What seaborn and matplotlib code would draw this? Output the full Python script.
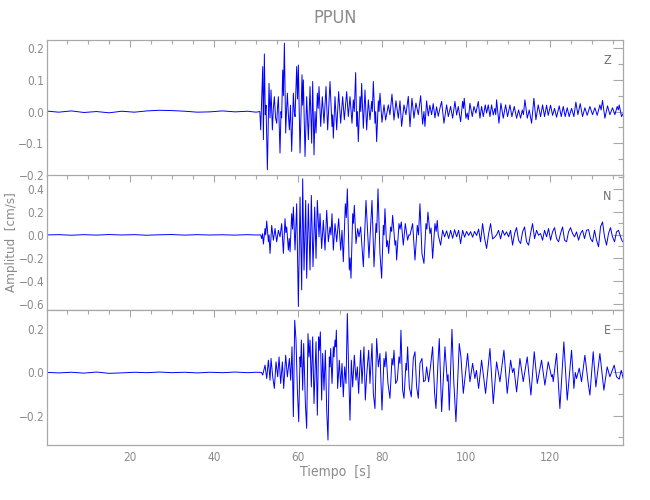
import matplotlib
matplotlib.use("Agg")
import matplotlib.pyplot as plt
import pandas as pd
import seaborn as sns
from matplotlib import font_manager
from matplotlib.ticker import FuncFormatter, MultipleLocator

# (tiempo [s], amplitud [cm/s]) picked off the three traces of station PPUN
z_trace = [
    (0.5, 0.001), (3.0, -0.002), (6.0, 0.002), (9.0, -0.003), (12.0, 0.000), (15.0, -0.004),
    (18.0, 0.001), (21.0, -0.002), (24.0, 0.002), (27.0, 0.004), (30.0, 0.003), (33.0, 0.001),
    (36.0, -0.002), (39.0, -0.001), (42.0, 0.002), (45.0, -0.001), (48.0, 0.001), (50.0, -0.002),
    (50.9, 0.000), (51.11, -0.058), (51.59, 0.142), (51.75, -0.089), (51.98, 0.182), (52.20, -0.010),
    (52.38, 0.020), (52.70, -0.184), (53.09, 0.089), (53.33, -0.020), (53.57, 0.068), (53.89, -0.058),
    (54.12, 0.010), (54.36, 0.047), (54.65, -0.020), (54.92, -0.037), (55.10, 0.010), (55.32, 0.047),
    (55.71, -0.131), (55.95, 0.000), (56.10, -0.020), (56.35, 0.131), (56.52, 0.050), (56.75, 0.216),
    (57.06, -0.068), (57.25, 0.000), (57.46, 0.058), (57.70, -0.010), (57.94, -0.058), (58.20, 0.020),
    (58.49, -0.126), (58.89, 0.058), (59.10, 0.000), (59.29, -0.016), (59.68, 0.142), (59.88, 0.040),
    (60.08, 0.147), (60.48, -0.131), (60.95, 0.116), (61.10, 0.020), (61.27, 0.100), (61.67, -0.142),
    (62.06, 0.047), (62.46, -0.089), (62.86, 0.079), (63.25, -0.100), (63.49, 0.095), (63.81, -0.137),
    (64.05, 0.000), (64.29, -0.068), (64.60, 0.058), (64.80, 0.010), (65.00, 0.079), (65.40, -0.047),
    (65.79, 0.047), (66.19, -0.037), (66.67, 0.079), (67.06, -0.058), (67.62, 0.095), (68.09, -0.047),
    (68.25, -0.010), (68.41, -0.084), (68.81, 0.047), (69.21, -0.058), (69.68, 0.063), (70.16, -0.037),
    (70.63, 0.047), (71.03, -0.026), (71.59, 0.063), (71.98, -0.016), (72.38, 0.047), (72.86, -0.037),
    (73.17, 0.037), (73.40, 0.000), (73.73, 0.123), (73.97, -0.047), (74.15, 0.000), (74.36, -0.095),
    (74.76, 0.047), (74.95, 0.000), (75.16, 0.089), (75.56, -0.053), (75.95, 0.068), (76.35, -0.058),
    (76.75, 0.037), (77.14, -0.026), (77.54, 0.032), (77.70, 0.000), (77.94, 0.095), (78.33, -0.037),
    (78.50, 0.000), (78.73, -0.095), (79.13, 0.034), (79.30, 0.000), (79.52, 0.058), (80.00, -0.034),
    (80.48, 0.021), (80.87, -0.027), (81.51, 0.021), (81.90, -0.010), (82.38, 0.055), (82.86, -0.027),
    (83.33, 0.034), (83.89, -0.021), (84.29, 0.034), (84.68, -0.047), (85.24, 0.021), (85.71, -0.010),
    (86.27, 0.048), (86.67, -0.048), (87.14, 0.042), (87.62, -0.021), (88.09, 0.027), (88.65, -0.010),
    (89.21, 0.050), (89.68, -0.040), (90.00, 0.000), (90.24, -0.047), (90.63, 0.034), (91.03, -0.014),
    (91.40, 0.020), (91.82, -0.010), (92.20, 0.025), (92.62, -0.020), (93.00, 0.015), (93.41, -0.015),
    (93.80, 0.010), (94.21, 0.032), (94.76, -0.037), (95.40, 0.021), (95.80, -0.016), (96.35, 0.016),
    (96.83, -0.021), (97.38, 0.032), (97.78, -0.011), (98.18, 0.016), (98.73, -0.032), (99.21, 0.032),
    (99.40, 0.010), (99.60, 0.042), (100.00, -0.021), (100.30, -0.005), (100.56, -0.026), (100.95, 0.026),
    (101.51, -0.016), (101.91, 0.016), (102.38, -0.005), (102.94, 0.032), (103.34, -0.021), (103.73, 0.016),
    (104.13, -0.016), (104.60, 0.021), (104.92, -0.005), (105.32, 0.021), (105.72, -0.016), (106.11, 0.021),
    (106.51, -0.011), (106.90, 0.010), (107.10, -0.010), (107.30, 0.037), (107.86, -0.037), (108.34, 0.026),
    (108.89, -0.021), (109.45, 0.021), (109.92, -0.016), (110.48, 0.021), (110.95, -0.016), (111.51, 0.016),
    (112.07, -0.021), (112.54, 0.005), (113.02, -0.021), (113.42, 0.005), (113.70, -0.010), (114.05, 0.037),
    (114.61, -0.021), (115.08, 0.005), (115.64, -0.037), (116.19, 0.042), (116.67, -0.026), (117.22, 0.021),
    (117.78, -0.016), (118.26, 0.021), (118.73, -0.016), (119.21, 0.020), (119.60, -0.012), (120.16, 0.020),
    (120.64, -0.012), (121.11, 0.010), (121.59, -0.018), (122.22, 0.018), (122.70, -0.016), (123.18, 0.016),
    (123.65, -0.016), (124.13, 0.012), (124.60, -0.016), (125.16, 0.010), (125.72, -0.016), (126.19, 0.030),
    (126.67, -0.010), (127.22, 0.025), (127.78, -0.016), (128.34, 0.012), (128.89, -0.012), (129.53, 0.016),
    (130.16, -0.010), (130.72, 0.012), (131.27, -0.012), (131.91, 0.021), (132.20, 0.005), (132.54, 0.035),
    (133.10, -0.021), (133.73, 0.018), (134.29, -0.010), (134.92, 0.012), (135.48, -0.010), (136.03, 0.016),
    (136.30, 0.005), (136.51, 0.021), (137.07, -0.016), (137.50, -0.005),
]

n_trace = [
    (0.5, 0.000), (3.0, 0.002), (6.0, -0.003), (9.0, 0.002), (12.0, -0.002), (15.0, 0.003),
    (18.0, -0.001), (21.0, 0.002), (24.0, -0.003), (27.0, 0.001), (30.0, 0.003), (33.0, -0.002),
    (36.0, 0.002), (39.0, -0.001), (42.0, 0.001), (45.0, -0.002), (48.0, 0.002), (50.0, -0.001),
    (51.1, 0.000), (51.35, -0.032), (51.55, 0.010), (51.75, -0.080), (52.14, 0.055), (52.30, 0.000),
    (52.54, 0.121), (52.94, -0.060), (53.10, 0.000), (53.33, -0.161), (53.73, 0.083), (54.13, -0.046),
    (54.52, 0.055), (54.92, -0.060), (55.32, 0.040), (55.71, -0.017), (56.11, 0.098), (56.51, -0.161),
    (56.90, 0.141), (57.10, 0.020), (57.30, 0.069), (57.70, -0.132), (57.90, -0.030), (58.10, -0.147),
    (58.49, 0.184), (58.70, 0.050), (58.89, 0.241), (59.29, -0.132), (59.68, 0.270), (60.08, -0.621),
    (60.48, 0.328), (60.87, -0.477), (61.11, 0.486), (61.43, -0.305), (61.83, 0.299), (62.06, -0.376),
    (62.46, 0.270), (62.86, -0.305), (63.17, 0.342), (63.57, -0.276), (63.97, 0.241), (64.29, -0.204),
    (64.60, 0.299), (65.00, -0.017), (65.24, 0.184), (65.63, -0.118), (66.03, 0.126), (66.43, -0.132),
    (66.83, 0.213), (67.22, -0.060), (67.62, 0.069), (67.85, 0.000), (68.09, 0.184), (68.41, -0.132),
    (68.81, 0.098), (69.21, -0.060), (69.68, 0.141), (70.16, -0.132), (70.48, 0.040), (70.79, -0.233),
    (71.27, 0.270), (71.50, 0.150), (71.75, 0.399), (72.22, -0.305), (72.40, -0.200), (72.62, -0.376),
    (73.02, 0.184), (73.20, 0.100), (73.41, 0.256), (73.81, -0.075), (74.21, 0.055), (74.52, -0.017),
    (74.92, 0.069), (75.56, -0.276), (76.19, 0.299), (76.90, -0.200), (77.62, 0.299), (78.10, -0.276),
    (78.57, 0.098), (78.75, 0.020), (79.05, 0.399), (79.52, -0.161), (79.92, -0.376), (80.32, 0.083),
    (80.50, 0.000), (80.71, 0.227), (81.11, -0.103), (81.35, -0.050), (81.59, -0.161), (82.06, 0.069),
    (82.30, 0.030), (82.54, 0.170), (83.10, -0.089), (83.30, -0.050), (83.49, -0.218), (84.05, 0.098),
    (84.30, 0.050), (84.60, 0.112), (85.08, -0.089), (85.56, 0.098), (86.11, -0.046), (86.40, 0.000),
    (86.67, -0.003), (87.30, 0.098), (87.86, -0.218), (88.41, 0.083), (88.70, 0.000), (89.05, 0.270),
    (89.52, -0.161), (90.00, -0.247), (90.48, 0.098), (90.70, 0.050), (90.95, 0.198), (91.43, 0.011),
    (91.70, 0.060), (92.06, -0.204), (92.62, 0.098), (92.90, 0.030), (93.17, 0.126), (93.40, 0.000),
    (93.97, -0.089), (94.45, 0.040), (94.92, -0.017), (95.40, 0.035), (95.88, -0.032), (96.35, 0.040),
    (96.83, -0.030), (97.30, 0.045), (97.78, -0.017), (98.26, 0.040), (98.73, -0.075), (99.21, 0.040),
    (99.68, -0.020), (100.16, 0.030), (100.64, -0.005), (101.11, 0.028), (101.59, -0.020), (102.06, 0.030),
    (102.54, -0.005), (103.02, 0.050), (103.49, -0.060), (103.97, 0.098), (104.44, -0.030), (104.92, -0.118),
    (105.40, 0.010), (105.87, 0.098), (106.35, -0.035), (106.83, -0.020), (107.30, 0.000), (107.78, 0.040),
    (108.25, -0.035), (108.73, 0.040), (109.21, -0.003), (109.68, 0.026), (110.16, -0.017), (110.63, 0.040),
    (111.11, -0.089), (111.59, 0.012), (112.06, 0.063), (112.54, -0.046), (113.02, -0.075), (113.49, 0.026),
    (113.97, 0.069), (114.44, -0.060), (114.92, -0.089), (115.40, 0.012), (115.87, 0.098), (116.35, -0.032),
    (116.83, 0.040), (117.30, -0.003), (117.78, 0.012), (118.25, -0.046), (118.73, 0.040), (119.21, -0.017),
    (119.68, 0.055), (120.16, -0.046), (120.63, 0.026), (121.11, 0.063), (121.59, -0.032), (122.06, -0.060),
    (122.54, 0.012), (123.02, 0.069), (123.49, -0.046), (123.97, -0.060), (124.44, 0.026), (124.92, 0.063),
    (125.40, 0.012), (125.87, -0.017), (126.35, 0.026), (126.83, -0.046), (127.30, 0.012), (127.78, 0.040),
    (128.25, -0.032), (128.73, 0.040), (129.21, 0.046), (129.68, -0.032), (130.16, -0.060), (130.63, 0.040),
    (131.11, -0.046), (131.59, -0.103), (132.06, 0.069), (132.54, 0.112), (133.02, -0.017), (133.49, -0.089),
    (133.97, 0.012), (134.44, 0.063), (134.92, -0.017), (135.40, -0.060), (135.87, 0.026), (136.35, 0.040),
    (136.83, -0.017), (137.30, -0.060),
]

e_trace = [
    (0.5, 0.000), (3.0, -0.002), (6.0, 0.001), (9.0, -0.003), (12.0, 0.002), (15.0, -0.004),
    (18.0, -0.002), (21.0, 0.001), (24.0, -0.001), (27.0, 0.002), (30.0, -0.001), (33.0, 0.001),
    (36.0, -0.002), (39.0, 0.001), (42.0, -0.001), (45.0, 0.002), (48.0, -0.001), (50.0, 0.001),
    (51.3, 0.000), (51.59, -0.012), (52.14, 0.034), (52.54, -0.028), (52.94, 0.057), (53.33, -0.036),
    (53.57, 0.065), (53.97, -0.020), (54.36, -0.074), (54.76, 0.049), (55.16, -0.020), (55.48, 0.072),
    (55.87, -0.051), (56.27, 0.049), (56.59, -0.074), (57.06, 0.080), (57.46, -0.020), (57.94, 0.065),
    (58.25, -0.036), (58.57, 0.119), (58.89, -0.205), (59.21, 0.242), (59.52, 0.150), (59.84, -0.074),
    (60.16, -0.228), (60.48, 0.072), (60.63, 0.026), (60.79, 0.150), (61.11, -0.082), (61.35, 0.134),
    (61.75, -0.144), (62.06, -0.259), (62.38, 0.180), (62.62, 0.072), (62.86, 0.150), (63.17, -0.067),
    (63.49, 0.165), (63.81, -0.144), (64.29, 0.142), (64.60, -0.198), (64.92, 0.165), (65.08, 0.103),
    (65.32, 0.188), (65.63, -0.128), (65.87, 0.088), (66.19, -0.082), (66.51, 0.103), (66.83, -0.174),
    (67.14, -0.313), (67.46, 0.072), (67.62, 0.026), (67.78, 0.111), (68.10, -0.051), (68.41, 0.119),
    (68.57, 0.072), (68.81, 0.150), (68.97, 0.119), (69.13, 0.196), (69.44, -0.074), (69.84, 0.057),
    (70.16, -0.067), (70.48, 0.042), (70.79, -0.113), (71.11, 0.026), (71.43, -0.051), (71.75, 0.273),
    (72.06, 0.003), (72.38, -0.221), (72.70, 0.057), (73.02, -0.067), (73.41, 0.080), (73.81, -0.036),
    (74.13, 0.026), (74.44, -0.097), (74.92, 0.103), (75.24, -0.051), (75.71, 0.119), (76.03, -0.128),
    (76.35, -0.012), (76.83, 0.103), (77.14, -0.051), (77.62, 0.134), (77.94, -0.097), (78.33, -0.167),
    (78.73, 0.157), (79.13, 0.026), (79.52, 0.088), (80.00, -0.174), (80.48, 0.065), (80.71, 0.026),
    (80.95, 0.096), (81.43, -0.051), (81.90, -0.120), (82.38, 0.065), (82.62, 0.034), (82.86, 0.103),
    (83.25, -0.051), (83.65, -0.036), (84.05, 0.072), (84.29, 0.042), (84.52, 0.196), (84.92, -0.082),
    (85.24, -0.120), (85.71, 0.042), (85.87, 0.011), (86.11, 0.119), (86.51, -0.067), (86.98, -0.113),
    (87.46, 0.065), (87.86, 0.096), (88.25, -0.067), (88.65, -0.120), (89.05, 0.042), (89.52, 0.065),
    (89.92, -0.043), (90.32, -0.036), (90.63, 0.026), (91.11, -0.043), (91.59, 0.034), (92.06, 0.119),
    (92.54, -0.097), (92.86, -0.167), (93.33, 0.042), (93.65, 0.157), (94.21, -0.182), (95.00, 0.119),
    (95.55, -0.040), (95.75, -0.010), (96.03, -0.175), (96.67, 0.200), (97.10, -0.040), (97.62, -0.228),
    (98.41, 0.134), (98.81, 0.072), (99.37, -0.097), (100.40, 0.088), (100.95, -0.043), (101.59, 0.042),
    (102.14, -0.028), (102.50, 0.010), (103.02, -0.074), (103.73, 0.057), (104.68, -0.097), (105.72, 0.111),
    (106.51, -0.144), (107.30, 0.049), (108.10, -0.043), (109.05, 0.103), (109.84, -0.097), (110.64, 0.057),
    (111.10, 0.000), (111.43, 0.020), (112.07, -0.090), (112.86, 0.065), (113.65, -0.043), (114.60, 0.072),
    (115.48, -0.105), (116.27, 0.096), (116.99, -0.051), (118.02, 0.057), (118.81, -0.059), (119.60, 0.049),
    (120.40, -0.020), (120.60, -0.010), (120.79, -0.043), (121.59, 0.088), (122.38, -0.167), (123.33, 0.142),
    (124.13, -0.128), (125.16, 0.103), (125.72, -0.074), (126.05, 0.000), (126.35, -0.028), (126.99, 0.020),
    (127.54, -0.043), (128.34, 0.080), (129.13, -0.051), (129.53, -0.105), (130.32, 0.096), (130.95, -0.067),
    (131.91, 0.088), (132.86, -0.082), (133.65, 0.026), (134.29, -0.020), (135.32, 0.034), (135.87, -0.020),
    (136.51, -0.031), (137.00, 0.010), (137.50, -0.030),
]

station = "PPUN"
components = ["Z", "N", "E"]
traces = [z_trace, n_trace, e_trace]

# panel layout (figure fractions) and axis settings
panel_boxes = [
    (0.0723, 0.649, 0.8867, 0.2704),
    (0.0723, 0.3794, 0.8867, 0.2696),
    (0.0723, 0.110, 0.8867, 0.2694),
]
y_limits = [(-0.202, 0.225), (-0.654, 0.515), (-0.336, 0.288)]
y_steps = [(0.1, 0.05), (0.2, 0.1), (0.2, 0.1)]

TEXT_GREY = "#8a8a8a"
AXIS_GREY = "#a8a8a8"
TRACE_BLUE = "#0000ff"


def minus_label(value, _pos):
    text = f"{value:.1f}"
    if text == "-0.0":
        text = "0.0"
    return text.replace("-", "\u2212")


def build_frame() -> pd.DataFrame:
    rows = []
    for comp, trace in zip(components, traces):
        for t, amp in trace:
            rows.append({"componente": comp, "tiempo": t, "amplitud": amp})
    return pd.DataFrame(rows)


def make_plot() -> None:
    sns.set_style("white")
    installed = {f.name for f in font_manager.fontManager.ttflist}
    family = "Liberation Sans Narrow" if "Liberation Sans Narrow" in installed else "DejaVu Sans"
    plt.rcParams["font.family"] = [family, "DejaVu Sans"]
    plt.rcParams["font.stretch"] = "condensed"

    df = build_frame()
    fig = plt.figure(figsize=(6.5, 5), dpi=100)

    for i, comp in enumerate(components):
        ax = fig.add_axes(panel_boxes[i])
        sub = df[df["componente"] == comp]
        sns.lineplot(
            data=sub, x="tiempo", y="amplitud", ax=ax,
            color=TRACE_BLUE, linewidth=0.7, estimator=None, sort=False,
        )
        ax.set_xlim(0.2, 137.5)
        ax.set_ylim(*y_limits[i])
        ax.set_xlabel("")
        ax.set_ylabel("")

        ax.xaxis.set_major_locator(MultipleLocator(20))
        ax.xaxis.set_minor_locator(MultipleLocator(5))
        ax.yaxis.set_major_locator(MultipleLocator(y_steps[i][0]))
        ax.yaxis.set_minor_locator(MultipleLocator(y_steps[i][1]))
        ax.yaxis.set_major_formatter(FuncFormatter(minus_label))

        ax.tick_params(which="both", direction="in", top=True, right=True,
                       color=AXIS_GREY, labelcolor=TEXT_GREY, labelsize=8.5, width=0.8)
        ax.tick_params(axis="x", which="major", length=5, pad=4)
        ax.tick_params(axis="x", which="minor", length=3)
        ax.tick_params(axis="y", which="major", length=7, pad=2)
        ax.tick_params(axis="y", which="minor", length=3.5)
        if i < 2:
            ax.tick_params(labelbottom=False)

        for spine in ax.spines.values():
            spine.set_color(AXIS_GREY)
            spine.set_linewidth(0.9)

        ax.text(0.972, 0.847, comp, transform=ax.transAxes, ha="center", va="center",
                fontsize=9, color="#707070")

    fig.text(0.516, 0.964, station, ha="center", va="center", fontsize=13, color=TEXT_GREY)
    fig.text(0.516, 0.056, "Tiempo  [s]", ha="center", va="center", fontsize=10, color=TEXT_GREY)
    fig.text(0.017, 0.516, "Amplitud  [cm/s]", ha="center", va="center", rotation=90,
             fontsize=9.5, color=TEXT_GREY)

    fig.savefig("out.png", dpi=100, facecolor="white")


make_plot()
